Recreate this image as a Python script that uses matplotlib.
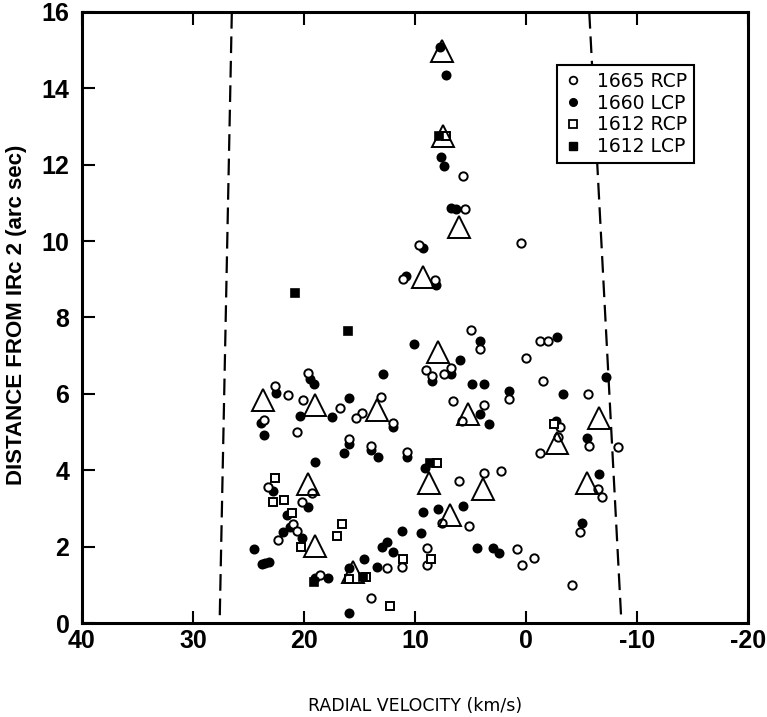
"""OH/H2O maser spots around IRc 2: distance vs radial velocity."""

import matplotlib
matplotlib.use("Agg")
import matplotlib.pyplot as plt
from matplotlib.lines import Line2D

plt.rcParams["axes.unicode_minus"] = False

# 1665 MHz RCP (open circles)
rcp1665_v = [5.7, 5.5, 9.6, 11.1, 8.2, 0.45, 4.95, 4.14, 9.0, 8.5, 6.78, 7.36,
             19.67, 22.59, 21.44, 20.06, 16.78, 13.06, 14.77, 15.32, 11.95, 6.55,
             3.76, 5.79, 23.58, 20.6, 15.95, 13.99, 10.69, -1.26, -2.01, 0.03,
             -1.56, 1.5, -5.61, -3.02, -2.88, -1.26, -5.68, -8.26, 3.78, 2.25,
             -6.51, -6.82, -4.86, 0.78, 0.39, -0.75, -4.12, 23.22, 19.31, 20.21,
             20.96, 20.6, 22.32, 18.56, 12.55, 13.96, 11.14, 8.95, 8.95, 7.59,
             5.14, 6.01]
rcp1665_d = [11.7, 10.83, 9.9, 9.02, 8.98, 9.95, 7.66, 7.17, 6.62, 6.47, 6.67, 6.51,
             6.55, 6.21, 5.96, 5.84, 5.64, 5.92, 5.49, 5.36, 5.24, 5.81,
             5.71, 5.3, 5.31, 5.01, 4.81, 4.64, 4.48, 7.39, 7.39, 6.94,
             6.34, 5.86, 5.99, 5.14, 4.87, 4.44, 4.63, 4.62, 3.93, 3.99,
             3.5, 3.31, 2.37, 1.94, 1.52, 1.69, 0.99, 3.57, 3.4, 3.16,
             2.59, 2.41, 2.17, 1.26, 1.43, 0.65, 1.46, 1.97, 1.52, 2.61,
             2.54, 3.73]

# 1660 LCP (filled circles)
lcp1660_v = [7.72, 7.21, 7.66, 7.41, 6.78, 6.31, 9.31, 10.81, 8.14, 4.14, 10.12,
             5.95, 8.5, 6.78, 4.89, 3.76, 19.46, 19.13, 12.91, 22.52, 20.36, 17.48,
             15.97, 11.95, 4.14, 3.31, 23.87, 23.6, 15.95, 16.4, 13.99, 13.36,
             10.69, 19.01, -2.82, 1.5, -3.36, -2.66, -5.52, -7.21, -6.58, -5.02,
             2.41, 2.95, 4.44, 22.82, 19.61, 21.56, 21.86, 21.26, 20.21, 24.5,
             23.81, 23.51, 23.13, 19.01, 17.81, 15.95, 14.57, 13.4, 15.95, 13.0,
             12.55, 11.95, 11.14, 9.49, 9.31, 7.95, 5.7, 9.1]
lcp1660_d = [15.09, 14.35, 12.21, 11.97, 10.86, 10.84, 9.81, 9.08, 8.85, 7.39, 7.3,
             6.88, 6.34, 6.52, 6.26, 6.26, 6.39, 6.25, 6.52, 6.03, 5.43, 5.4,
             5.88, 5.12, 5.47, 5.2, 5.23, 4.92, 4.7, 4.46, 4.53, 4.35,
             4.34, 4.21, 7.49, 6.08, 5.99, 5.3, 4.85, 6.43, 3.9, 2.61,
             1.82, 1.96, 1.96, 3.46, 3.04, 2.83, 2.39, 2.52, 2.23, 1.93,
             1.54, 1.58, 1.6, 1.17, 1.17, 1.43, 1.67, 1.47, 0.25, 2.0,
             2.13, 1.87, 2.41, 2.36, 2.91, 2.98, 3.07, 4.05]

# 1612 RCP (open squares)
rcp1612_v = [7.2, -2.52, 8.05, 22.61, 22.82, 21.77, 21.11, 20.3, 16.6, 17.05,
             15.95, 14.41, 12.25, 11.11, 8.56]
rcp1612_d = [12.75, 5.21, 4.18, 3.79, 3.18, 3.22, 2.87, 1.98, 2.59, 2.28,
             1.14, 1.2, 0.45, 1.68, 1.67]

# 1612 LCP (filled squares)
lcp1612_v = [20.81, 16.06, 7.84, 8.65, 19.1, 14.71]
lcp1612_d = [8.63, 7.64, 12.75, 4.18, 1.08, 1.2]

# large open triangles
tri_v = [7.54, 7.45, 6.01, 9.31, 7.9, 23.72, 19.01, 13.45, 5.2, -2.79, -6.6,
         -5.47, 19.64, 19.01, 15.56, 6.85, 8.71, 3.9]
tri_d = [14.98, 12.75, 10.37, 9.05, 7.09, 5.84, 5.71, 5.58, 5.46, 4.71, 5.36,
         3.66, 3.65, 2.02, 1.34, 2.83, 3.66, 3.5]

# dashed boundary lines (velocity at d=16 and d=0)
left_edge_v = [26.5, 27.6]
right_edge_v = [-5.7, -8.6]
edge_d = [16, 0]

x_ticks = [40, 30, 20, 10, 0, -10, -20]
y_ticks = [0, 2, 4, 6, 8, 10, 12, 14, 16]

fig = plt.figure(figsize=(7.67, 7.17), dpi=100)
ax = fig.add_axes([0.1069, 0.1311, 0.8683, 0.8522])

dash = dict(color="black", lw=1.6, dashes=(7.5, 3.5), zorder=1)
ax.plot(left_edge_v, edge_d, **dash)
ax.plot(right_edge_v, edge_d, **dash)

ms = 6
ax.plot(lcp1660_v, lcp1660_d, "o", ms=ms, mfc="black", mec="black", mew=1.2,
        ls="none", zorder=3, label="1660 LCP")
ax.plot(rcp1665_v, rcp1665_d, "o", ms=ms, mfc="white", mec="black", mew=1.4,
        ls="none", zorder=4, label="1665 RCP")
ax.plot(rcp1612_v, rcp1612_d, "s", ms=ms, mfc="white", mec="black", mew=1.4,
        ls="none", zorder=4, label="1612 RCP")
ax.plot(lcp1612_v, lcp1612_d, "s", ms=ms, mfc="black", mec="black", mew=1.2,
        ls="none", zorder=4, label="1612 LCP")
ax.plot(tri_v, tri_d, "^", ms=16, mfc="none", mec="black", mew=1.4,
        ls="none", zorder=5)

ax.set_xlim(40, -20)
ax.set_ylim(0, 16)
ax.set_xticks(x_ticks)
ax.set_yticks(y_ticks)

for s in ax.spines.values():
    s.set_linewidth(2.2)

tick_font = dict(family="Liberation Sans", weight="bold", size=18)
ax.tick_params(axis="both", direction="in", length=9, width=1.5)
ax.tick_params(axis="x", top=True, pad=4)
ax.tick_params(axis="y", right=False, pad=9)
ax.set_xticklabels([str(t) for t in x_ticks], fontdict=tick_font)
ax.set_yticklabels([str(t) for t in y_ticks], fontdict=tick_font)

ax.set_xlabel("RADIAL VELOCITY (km/s)", family="DejaVu Sans", size=12.5)
ax.xaxis.set_label_coords(0.5, -0.121)
ax.set_ylabel("DISTANCE FROM IRc 2 (arc sec)", family="Liberation Sans",
              weight="bold", size=16)
ax.yaxis.set_label_coords(-0.083, 0.504)

handles = [
    Line2D([], [], marker="o", ls="none", ms=5.5, mfc="white", mec="black", mew=1.3),
    Line2D([], [], marker="o", ls="none", ms=5.5, mfc="black", mec="black"),
    Line2D([], [], marker="s", ls="none", ms=5.5, mfc="white", mec="black", mew=1.3),
    Line2D([], [], marker="s", ls="none", ms=5.5, mfc="black", mec="black"),
]
labels = ["1665 RCP", "1660 LCP", "1612 RCP", "1612 LCP"]
leg = ax.legend(handles, labels, loc="upper left", bbox_to_anchor=(0.713, 0.913),
                fancybox=False, framealpha=1, edgecolor="black",
                prop=dict(family="DejaVu Sans", size=13.5),
                handlelength=1.0, handletextpad=0.8, labelspacing=0.15,
                borderpad=0.35, borderaxespad=0)
leg.get_frame().set_linewidth(1.5)
leg.set_zorder(10)

fig.savefig("out.png", dpi=100)
